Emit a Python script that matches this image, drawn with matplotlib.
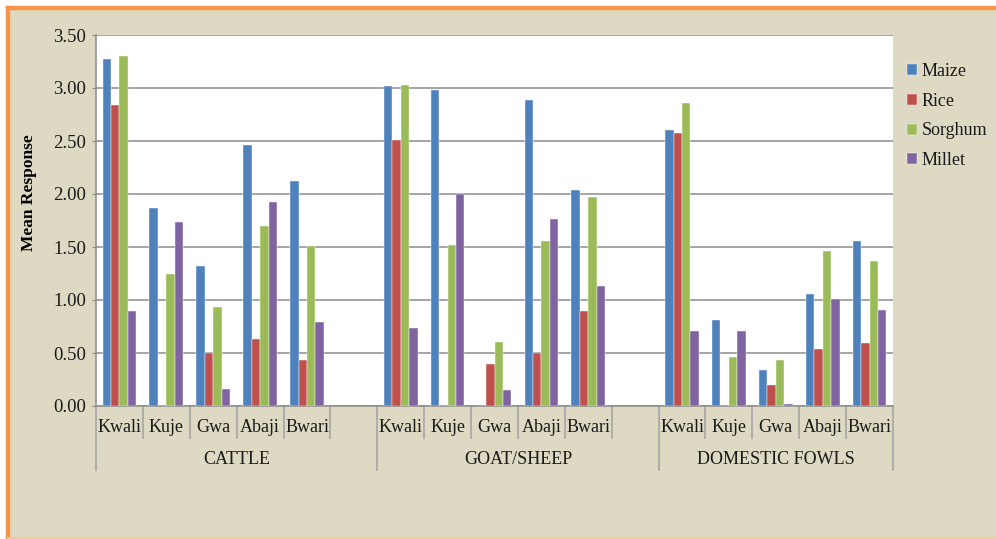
import numpy as np
import matplotlib
matplotlib.use("Agg")
import matplotlib.pyplot as plt
import matplotlib.transforms as mtransforms
from matplotlib.patches import Rectangle
from matplotlib.lines import Line2D

# data
districts = ["Kwali", "Kuje", "Gwa", "Abaji", "Bwari"]
groups = ["CATTLE", "GOAT/SHEEP", "DOMESTIC FOWLS"]
crops = ["Maize", "Rice", "Sorghum", "Millet"]

# order: cattle (5), goat/sheep (5), domestic fowls (5)
maize = [3.27, 1.87, 1.32, 2.46, 2.12,
         3.02, 2.98, 0.00, 2.89, 2.04,
         2.60, 0.81, 0.34, 1.06, 1.56]
rice = [2.84, 0.00, 0.50, 0.63, 0.43,
        2.51, 0.01, 0.40, 0.50, 0.90,
        2.58, 0.00, 0.20, 0.54, 0.59]
sorghum = [3.30, 1.25, 0.93, 1.70, 1.51,
           3.03, 1.52, 0.60, 1.56, 1.97,
           2.86, 0.46, 0.43, 1.46, 1.37]
millet = [0.90, 1.74, 0.16, 1.92, 0.79,
          0.74, 2.00, 0.15, 1.76, 1.13,
          0.71, 0.71, 0.02, 1.01, 0.91]

colors = ["#4F81BD", "#C0504D", "#9BBB59", "#8064A2"]
beige = "#DDD9C3"
orange = "#F79646"
grid_col = "#8C8C8C"

plt.rcParams["font.family"] = "serif"
plt.rcParams["font.serif"] = ["Liberation Serif", "Times New Roman", "DejaVu Serif"]
plt.rcParams["text.color"] = "#1A1A1A"
plt.rcParams["ytick.labelcolor"] = "#1A1A1A"

W, H = 996, 539
fig = plt.figure(figsize=(W / 100, H / 100), dpi=100, facecolor="white")

# beige background with orange frame (left + top)
fig.patches.append(Rectangle((6 / W, 0), 1, (H - 7) / H, transform=fig.transFigure,
                             facecolor=beige, edgecolor="none", zorder=-10))
fig.lines.append(Line2D([8 / W, 8 / W], [0, (H - 8) / H], transform=fig.transFigure,
                        color=orange, lw=3.2, solid_capstyle="projecting"))
fig.lines.append(Line2D([8 / W, 1], [(H - 8) / H, (H - 8) / H], transform=fig.transFigure,
                        color=orange, lw=3.2, solid_capstyle="projecting"))
fig.lines.append(Line2D([8 / W, 1], [0.8 / H, 0.8 / H], transform=fig.transFigure,
                        color="#F5C89A", lw=1.5))

left, right, top, bottom = 96, 893, 35, 406
ax = fig.add_axes([left / W, (H - bottom) / H, (right - left) / W, (bottom - top) / H])
ax.set_facecolor("white")

n_slots = 17
ax.set_xlim(-0.5, n_slots - 0.5)
ax.set_ylim(0, 3.5)

series = [maize, rice, sorghum, millet]
bw = 0.18
offsets = [-1.5 * bw, -0.5 * bw, 0.5 * bw, 1.5 * bw]
xpos = np.array([g * 6 + i for g in range(len(groups)) for i in range(len(districts))])
for vals, col, off, name in zip(series, colors, offsets, crops):
    ax.bar(xpos + off, vals, width=bw, color=col, label=name, zorder=3,
           edgecolor="white", linewidth=0.3)

ax.set_yticks(np.arange(0, 3.51, 0.5))
ax.set_yticklabels([f"{v:.2f}" for v in np.arange(0, 3.51, 0.5)], fontsize=13.5)
ax.yaxis.grid(True, color=grid_col, lw=1.1, zorder=0)
ax.set_axisbelow(True)
ax.tick_params(axis="y", length=3, color=grid_col, pad=4)
ax.set_xticks([])
for s in ["top", "right"]:
    ax.spines[s].set_visible(False)
for s in ["left", "bottom"]:
    ax.spines[s].set_color(grid_col)
    ax.spines[s].set_linewidth(1.1)

ax.set_ylabel("Mean Response", fontsize=12.5, fontweight="bold")
ax.yaxis.set_label_coords((37 - left) / (right - left), (bottom - 193) / (bottom - top))

# two-level category axis
trans = mtransforms.blended_transform_factory(ax.transData, ax.transAxes)
h_px = bottom - top
slot_drop = (438 - bottom) / h_px
group_drop = (470 - bottom) / h_px
group_edges = [-0.5, 5.5, 11.5, 16.5]
for k in range(n_slots + 1):
    x = k - 0.5
    drop = group_drop if x in group_edges else slot_drop
    ax.plot([x, x], [0, -drop], transform=trans, color="#A6A6A6", lw=1.2, clip_on=False)

for g, gname in enumerate(groups):
    for i, d in enumerate(districts):
        ax.text(g * 6 + i, -(428 - bottom) / h_px, d, transform=trans,
                ha="center", va="center", fontsize=13)
    ax.text((group_edges[g] + group_edges[g + 1]) / 2, -(460 - bottom) / h_px, gname,
            transform=trans, ha="center", va="center", fontsize=13)

ax.legend(loc="upper left", bbox_to_anchor=(900 / W, (H - 56) / H),
          bbox_transform=fig.transFigure, frameon=False, fontsize=13,
          handlelength=0.55, handleheight=0.55, handletextpad=0.25,
          labelspacing=0.7, borderaxespad=0)

fig.savefig("out.png", dpi=100, facecolor=fig.get_facecolor())
